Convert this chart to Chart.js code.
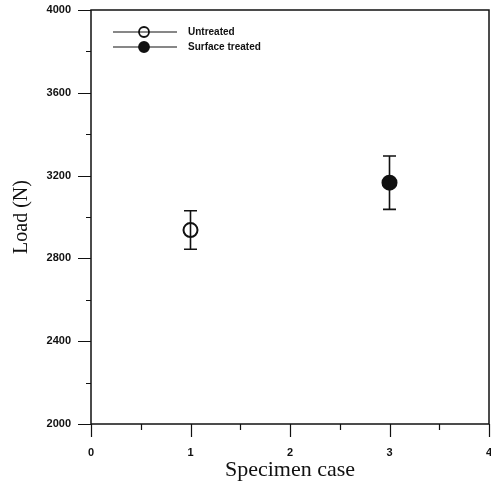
<!DOCTYPE html>
<html>
<head>
<meta charset="utf-8">
<script src="https://cdn.jsdelivr.net/npm/chart.js@4"></script>
<style>
  html, body { margin: 0; padding: 0; background: #fff; }
  #wrap { width: 491px; height: 489px; }
</style>
</head>
<body>
<div id="wrap"><canvas id="loadChart" width="491" height="489"></canvas></div>
<script>
// values
const seriesLabels = ['Untreated', 'Surface treated'];
const specimenCase = [1, 3];
const meanLoad = [2937, 3166];
const loadErrUp = [93, 129];
const loadErrDown = [93, 129];
const markerFilled = [false, true];

const ink = '#111';

const datasets = seriesLabels.map((label, i) => ({
    label: label,
    data: [{ x: specimenCase[i], y: meanLoad[i], up: loadErrUp[i], down: loadErrDown[i] }],
    pointRadius: 7,
    pointBorderWidth: 2,
    pointBorderColor: ink,
    pointBackgroundColor: markerFilled[i] ? ink : 'rgba(0,0,0,0)',
    showLine: false
}));

// error bars, tick marks, frame and the in-plot legend
const decorations = {
    id: 'decorations',
    afterDatasetsDraw(chart) {
        const c = chart.ctx;
        const a = chart.chartArea;
        const xs = chart.scales.x, ys = chart.scales.y;
        c.save();
        c.strokeStyle = ink;
        c.fillStyle = ink;

        // error bars
        c.lineWidth = 1.6;
        chart.data.datasets.forEach(ds => {
            ds.data.forEach(p => {
                const px = xs.getPixelForValue(p.x);
                const top = ys.getPixelForValue(p.y + p.up);
                const bot = ys.getPixelForValue(p.y - p.down);
                c.beginPath();
                c.moveTo(px, top); c.lineTo(px, bot);
                c.moveTo(px - 6.5, top); c.lineTo(px + 6.5, top);
                c.moveTo(px - 6.5, bot); c.lineTo(px + 6.5, bot);
                c.stroke();
            });
        });

        // frame
        c.lineWidth = 1.5;
        c.strokeRect(a.left, a.top, a.right - a.left, a.bottom - a.top);

        // ticks
        c.lineWidth = 1.2;
        c.beginPath();
        ys.ticks.forEach(t => {
            const py = Math.round(ys.getPixelForValue(t.value)) + 0.5;
            const len = t.value % 400 === 0 ? 13 : 5;
            c.moveTo(a.left - len, py); c.lineTo(a.left, py);
        });
        xs.ticks.forEach(t => {
            const px = Math.round(xs.getPixelForValue(t.value)) + 0.5;
            const len = Number.isInteger(t.value) ? 13 : 6;
            c.moveTo(px, a.bottom); c.lineTo(px, a.bottom + len);
        });
        c.stroke();

        // legend
        c.font = 'bold 10px "Liberation Sans", Arial, sans-serif';
        c.textBaseline = 'middle';
        chart.data.datasets.forEach((ds, i) => {
            const ly = a.top + 22 + i * 15;
            c.lineWidth = 1.2;
            c.beginPath();
            c.moveTo(a.left + 22, ly); c.lineTo(a.left + 86, ly);
            c.stroke();
            c.beginPath();
            c.arc(a.left + 53, ly, 5, 0, Math.PI * 2);
            c.fillStyle = ds.pointBackgroundColor;
            c.fill();
            c.lineWidth = 1.8;
            c.stroke();
            c.fillStyle = ink;
            c.fillText(ds.label, a.left + 97, ly);
        });
        c.restore();
    }
};

const tickFont = { family: '"Liberation Sans", Arial, sans-serif', size: 11, weight: 'bold' };
const serif = '"Liberation Serif", "Times New Roman", serif';

new Chart(document.getElementById('loadChart'), {
    type: 'scatter',
    data: { datasets: datasets },
    options: {
        responsive: false,
        animation: false,
        layout: { autoPadding: false, padding: { top: 10, right: 2, left: 0, bottom: 0 } },
        plugins: {
            legend: { display: false },
            tooltip: { enabled: false }
        },
        scales: {
            x: {
                type: 'linear',
                min: 0, max: 4,
                grid: { display: false, drawTicks: false },
                border: { display: false },
                ticks: {
                    stepSize: 0.5,
                    padding: 22,
                    color: ink,
                    font: tickFont,
                    maxRotation: 0,
                    callback: v => Number.isInteger(v) ? String(v) : ''
                },
                title: { display: true, text: 'Specimen case', color: ink, font: { family: serif, size: 22 }, padding: { top: 0, bottom: 6 } },
                afterFit: s => { s.height = 65; s.paddingLeft = 0; s.paddingRight = 0; }
            },
            y: {
                min: 2000, max: 4000,
                grid: { display: false, drawTicks: false },
                border: { display: false },
                ticks: {
                    stepSize: 200,
                    padding: 20,
                    color: ink,
                    font: tickFont,
                    callback: v => v % 400 === 0 ? String(v) : ''
                },
                title: { display: true, text: 'Load (N)', color: ink, font: { family: serif, size: 20 }, padding: { top: 10, bottom: 0 } },
                afterFit: s => { s.width = 91; s.paddingTop = 0; s.paddingBottom = 0; }
            }
        }
    },
    plugins: [decorations]
});
</script>
</body>
</html>
